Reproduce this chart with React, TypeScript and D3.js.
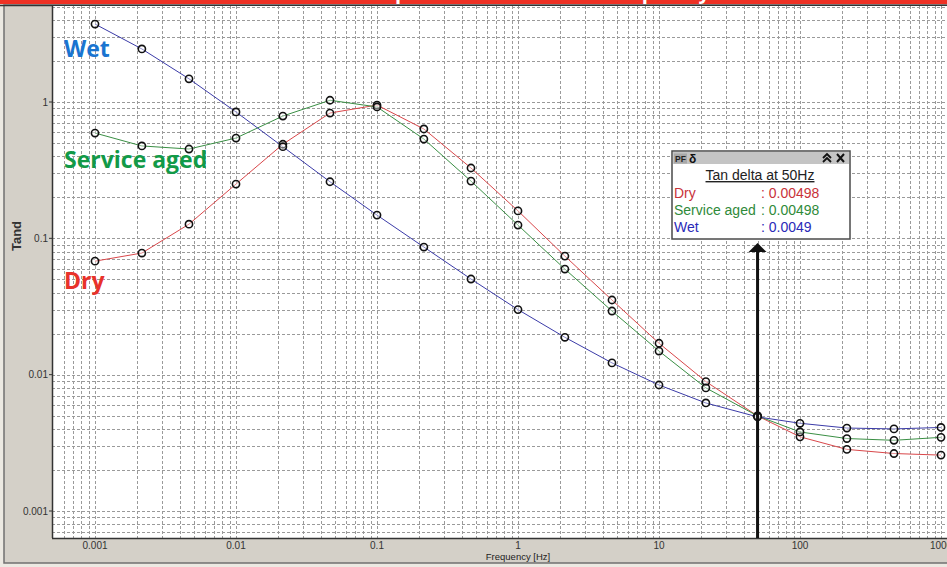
import * as d3 from 'd3';
import React from 'react';

// frequencies [Hz] of the measured points
const freqs = [0.001, 0.00215, 0.00464, 0.01, 0.0215, 0.0464, 0.1, 0.215, 0.464, 1, 2.15, 4.64, 10, 21.5, 50, 100, 215, 464, 1000];

// tan delta per sample
const dry = [0.068, 0.078, 0.127, 0.25, 0.49, 0.83, 0.95, 0.634, 0.328, 0.159, 0.0741, 0.0353, 0.017, 0.0089, 0.00498, 0.0035, 0.00283, 0.00264, 0.00257];
const serviceAged = [0.592, 0.476, 0.452, 0.544, 0.789, 1.03, 0.92, 0.535, 0.263, 0.125, 0.0595, 0.0293, 0.0149, 0.008, 0.00498, 0.0038, 0.0034, 0.0033, 0.00347];
const wet = [3.73, 2.45, 1.48, 0.845, 0.47, 0.26, 0.148, 0.0863, 0.0503, 0.03, 0.0188, 0.0122, 0.0084, 0.0062, 0.0049, 0.0044, 0.00406, 0.004, 0.0041];

const xTicks = [0.001, 0.01, 0.1, 1, 10, 100, 1000];
const xTickLabels = ['0.001', '0.01', '0.1', '1', '10', '100', '1000'];
const yTicks = [1, 0.1, 0.01, 0.001];
const yTickLabels = ['1', '0.1', '0.01', '0.001'];

const markerFreq = 50;
const readoutTitle = 'Tan delta at 50Hz';
const readoutNames = ['Dry', 'Service aged', 'Wet'];
const readoutValues = ['0.00498', '0.00498', '0.0049'];

const W = 947;
const H = 567;
const plot = { left: 52, right: 962, top: 6, bottom: 538 };

const App = () => {
  const x = d3.scaleLog().domain([0.001, 1000]).range([95, 941]);
  const y = d3.scaleLog().domain([0.001, 1]).range([511, 102]);

  // grid at every 1..9 multiple of each decade
  const gridVals: number[] = [];
  for (let e = -5; e <= 4; e++) {
    for (let m = 1; m <= 9; m++) gridVals.push(m * Math.pow(10, e));
  }
  const vGrid = gridVals.map((v) => x(v)).filter((p) => p > plot.left + 1 && p < plot.right);
  const hGrid = gridVals.map((v) => y(v)).filter((p) => p > plot.top && p < plot.bottom - 1);

  const series = [
    { name: 'Dry', values: dry, color: '#d9474a' },
    { name: 'Service aged', values: serviceAged, color: '#3a8f44' },
    { name: 'Wet', values: wet, color: '#3b3ba8' },
  ];
  const readoutColors = ['#c8323a', '#2f8a3a', '#2a2ab8'];

  const line = d3
    .line<number>()
    .x((_, i) => x(freqs[i]))
    .y((d) => y(d));

  const ax = x(markerFreq);
  const bx = 672;
  const by = 151;
  const bw = 178;
  const bh = 88;

  return (
    <svg width={W} height={H} style={{ position: 'absolute', left: 0, top: 0 }} fontFamily="'Liberation Sans', Arial, sans-serif">
      <defs>
        <clipPath id="plotClip">
          <rect x={plot.left} y={plot.top} width={plot.right - plot.left} height={plot.bottom - plot.top} />
        </clipPath>
      </defs>

      {/* window frame */}
      <rect x={0} y={0} width={W} height={H} fill="#ece9e2" />
      <rect x={4} y={5} width={W} height={558} fill="#d4d0c8" stroke="#707070" strokeWidth={1.5} />

      {/* title banner, mostly cut off */}
      <rect x={0} y={0} width={W} height={4} fill="#ee3124" />
      <text x={248} y={-1} fill="#fff" fontFamily="'Open Sans', sans-serif" fontWeight="bold" fontSize={20} textLength={462} lengthAdjust="spacing">
        Tan delta comparison at different frequency
      </text>
      <line x1={0} x2={W} y1={5.5} y2={5.5} stroke="#333" strokeWidth={1.5} />

      {/* plot area */}
      <rect x={plot.left} y={plot.top} width={plot.right - plot.left} height={plot.bottom - plot.top} fill="#fff" />
      <g clipPath="url(#plotClip)" stroke="#9a9a9a" strokeWidth={1} strokeDasharray="3,2">
        {vGrid.map((p, i) => (
          <line key={'v' + i} x1={Math.round(p) + 0.5} x2={Math.round(p) + 0.5} y1={plot.top} y2={plot.bottom} />
        ))}
        {hGrid.map((p, i) => (
          <line key={'h' + i} x1={plot.left} x2={plot.right} y1={Math.round(p) + 0.5} y2={Math.round(p) + 0.5} />
        ))}
      </g>

      {/* series */}
      <g clipPath="url(#plotClip)">
        {series.map((s) => (
          <path key={s.name} d={line(s.values) || ''} fill="none" stroke={s.color} strokeWidth={1} />
        ))}
        {series.map((s) =>
          s.values.map((v, i) => (
            <circle key={s.name + i} cx={x(freqs[i])} cy={y(v)} r={3.6} fill="#fff" fillOpacity={0.4} stroke="#111" strokeWidth={1.6} />
          ))
        )}
      </g>

      {/* plot border */}
      <line x1={plot.left + 0.5} x2={plot.left + 0.5} y1={plot.top} y2={plot.bottom} stroke="#333" strokeWidth={1.5} />
      <line x1={plot.left} x2={plot.right} y1={plot.bottom + 0.5} y2={plot.bottom + 0.5} stroke="#333" strokeWidth={1.5} />

      {/* axes */}
      {yTicks.map((t, i) => (
        <g key={'yt' + i}>
          <line x1={plot.left - 3} x2={plot.left} y1={y(t)} y2={y(t)} stroke="#333" />
          <text x={plot.left - 4} y={y(t) + 3.5} textAnchor="end" fontSize={10} fill="#333">
            {yTickLabels[i]}
          </text>
        </g>
      ))}
      {xTicks.map((t, i) => (
        <text key={'xt' + i} x={x(t)} y={549} textAnchor="middle" fontSize={10} fill="#333">
          {xTickLabels[i]}
        </text>
      ))}
      <text x={x(1)} y={560} textAnchor="middle" fontSize={9.5} fill="#222">
        Frequency [Hz]
      </text>
      <text transform="translate(21,236) rotate(-90)" textAnchor="middle" fontSize={13} fontWeight="bold" fill="#333">
        Tand
      </text>

      {/* sample annotations */}
      <g fontFamily="'Open Sans', sans-serif" fontWeight="bold" fontSize={23}>
        <text x={64} y={57} fill="#1a74d0">Wet</text>
        <text x={64} y={168} fill="#129a48">Service aged</text>
        <text x={64} y={289} fill="#e8322a">Dry</text>
      </g>

      {/* 50 Hz marker arrow */}
      <line x1={ax} x2={ax} y1={250} y2={plot.bottom} stroke="#111" strokeWidth={3} />
      <path d={`M${ax},243 L${ax - 9},252 L${ax + 9},252 Z`} fill="#111" />

      {/* readout box */}
      <g>
        <rect x={bx} y={by} width={bw} height={bh} fill="#fff" stroke="#4a4a4a" strokeWidth={1.5} />
        <rect x={bx + 1} y={by + 1} width={bw - 2} height={12} fill="#c4c4c4" />
        <rect x={bx + 2} y={by + 2.5} width={13} height={10} fill="#a8a8a8" />
        <text x={bx + 3} y={by + 11} fontSize={8.5} fontWeight="bold" fill="#222">PF</text>
        <text x={bx + 17} y={by + 12} fontSize={12} fontWeight="bold" fill="#111">δ</text>
        <path
          d={`M${bx + bw - 27},${by + 7} l4,-4 l4,4 M${bx + bw - 27},${by + 11} l4,-4 l4,4`}
          fill="none"
          stroke="#111"
          strokeWidth={1.8}
        />
        <path d={`M${bx + bw - 13},${by + 3} l7,8 M${bx + bw - 6},${by + 3} l-7,8`} stroke="#111" strokeWidth={2} />
        <text x={bx + 88} y={by + 29} textAnchor="middle" fontSize={14} fill="#222" textDecoration="underline">
          {readoutTitle}
        </text>
        {readoutNames.map((n, i) => (
          <g key={n} fontSize={14} fill={readoutColors[i]}>
            <text x={bx + 2} y={by + 47 + i * 17}>{n}</text>
            <text x={bx + 89} y={by + 47 + i * 17}>: {readoutValues[i]}</text>
          </g>
        ))}
      </g>
    </svg>
  );
};

export default App;
